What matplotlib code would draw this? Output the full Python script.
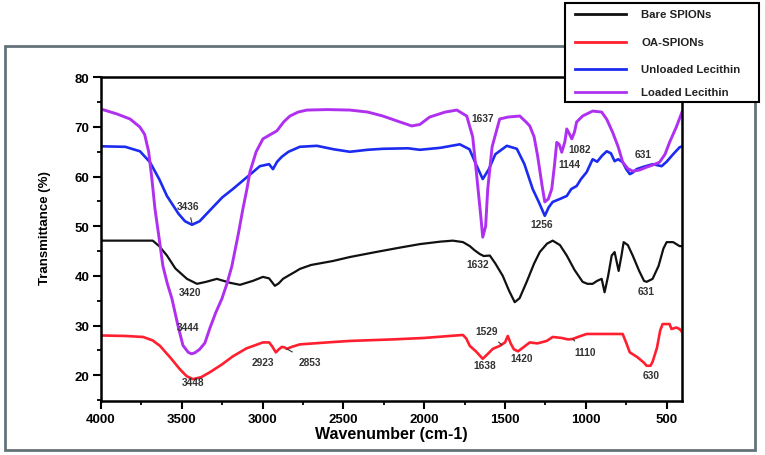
import matplotlib
matplotlib.use('Agg')
import matplotlib.pyplot as plt
from matplotlib.patches import Rectangle
from matplotlib.lines import Line2D
from matplotlib.ticker import MultipleLocator

plt.rcParams['font.family'] = ['Liberation Sans', 'DejaVu Sans']
plt.rcParams['font.weight'] = 'bold'

# ---- data ----
bare_wn = [4000, 3800, 3680, 3640, 3592, 3540, 3468, 3406, 3350, 3283, 3200, 3140, 3060,
           2998, 2960, 2924, 2900, 2874, 2843, 2800, 2770, 2700, 2565, 2460, 2300, 2150,
           2027, 1900, 1823, 1760, 1718, 1690, 1656, 1632, 1594, 1560, 1514, 1475, 1440,
           1410, 1366, 1320, 1285, 1240, 1205, 1160, 1118, 1070, 1020, 990, 958, 930, 902,
           884, 862, 840, 822, 797, 780, 766, 740, 710, 670, 640, 624, 587, 550, 520, 500,
           460, 420, 405]
bare_t = [47.1, 47.1, 47.1, 46.0, 44.1, 41.5, 39.4, 38.4, 38.8, 39.4, 38.6, 38.2, 39.0,
          39.8, 39.5, 38.0, 38.5, 39.4, 40.0, 40.8, 41.4, 42.2, 43.0, 43.8, 44.8, 45.7,
          46.4, 46.9, 47.1, 46.8, 46.0, 45.2, 44.4, 44.0, 44.1, 42.5, 40.0, 37.0, 34.7,
          35.5, 38.8, 42.5, 44.8, 46.5, 47.1, 46.2, 44.1, 41.2, 38.8, 38.4, 38.4, 39.0, 39.4,
          36.7, 40.0, 44.1, 44.8, 41.0, 44.0, 46.8, 46.2, 44.1, 41.0, 39.0, 38.8, 39.4, 42.0,
          45.5, 46.8, 46.8, 46.0, 46.0]

oa_wn = [4000, 3850, 3740, 3680, 3635, 3570, 3512, 3470, 3431, 3380, 3326, 3250, 3184,
         3100, 2998, 2960, 2943, 2918, 2900, 2881, 2865, 2850, 2820, 2770, 2600, 2460,
         2200, 2000, 1842, 1761, 1740, 1718, 1680, 1638, 1600, 1576, 1533, 1500, 1483,
         1465, 1445, 1420, 1395, 1347, 1300, 1242, 1205, 1150, 1110, 1081, 1040, 995, 900,
         800, 772, 750, 728, 680, 640, 624, 600, 587, 560, 540, 525, 500, 482, 470, 440,
         420, 405]
oa_t = [28.0, 27.9, 27.7, 27.0, 25.9, 23.5, 21.2, 19.8, 19.2, 19.6, 20.6, 22.2, 23.8,
        25.4, 26.6, 26.6, 25.9, 24.6, 25.2, 25.7, 25.6, 25.3, 25.7, 26.2, 26.6, 26.9,
        27.2, 27.5, 27.9, 28.1, 27.4, 25.9, 24.8, 23.3, 24.5, 25.3, 25.9, 26.6, 27.9,
        26.4, 25.2, 24.8, 25.4, 26.6, 26.4, 26.9, 27.7, 27.5, 27.2, 27.3, 27.8, 28.3, 28.3,
        28.3, 28.3, 26.5, 24.6, 23.6, 22.5, 21.9, 21.9, 22.7, 25.5, 29.0, 30.3, 30.3, 30.3,
        29.3, 29.6, 29.3, 28.7]

unl_wn = [4000, 3850, 3759, 3697, 3640, 3592, 3520, 3480, 3437, 3390, 3326, 3250, 3184,
          3100, 3017, 2960, 2936, 2910, 2881, 2840, 2770, 2664, 2560, 2460, 2350, 2256,
          2100, 2027, 1900, 1780, 1720, 1680, 1638, 1600, 1560, 1489, 1427, 1380, 1329,
          1290, 1254, 1230, 1205, 1160, 1118, 1090, 1057, 1030, 995, 958, 930, 900, 871,
          845, 822, 800, 772, 750, 728, 710, 686, 640, 586, 531, 500, 460, 420, 405]
unl_t = [66.1, 66.0, 65.1, 62.9, 59.5, 56.1, 52.5, 51.0, 50.3, 51.0, 53.2, 55.8, 57.5,
         59.8, 62.1, 62.5, 61.5, 63.0, 64.0, 65.0, 66.0, 66.2, 65.5, 65.0, 65.4, 65.6,
         65.7, 65.4, 65.8, 66.5, 65.5, 62.5, 59.5, 61.5, 64.5, 66.2, 65.6, 62.5, 57.5,
         54.8, 52.1, 53.8, 54.9, 55.5, 56.1, 57.5, 58.1, 59.5, 60.9, 63.5, 63.0, 64.2, 65.1,
         64.7, 63.1, 63.5, 62.9, 61.5, 60.5, 60.8, 61.5, 62.0, 62.5, 62.1, 63.0, 64.5, 65.9,
         66.1]

load_wn = [4000, 3900, 3820, 3760, 3730, 3705, 3685, 3666, 3640, 3617, 3590, 3561, 3524,
           3493, 3460, 3440, 3420, 3390, 3357, 3326, 3290, 3252, 3220, 3190, 3150, 3122,
           3097, 3078, 3040, 2998, 2950, 2912, 2870, 2831, 2780, 2726, 2600, 2460, 2350,
           2256, 2150, 2077, 2027, 1966, 1870, 1798, 1737, 1700, 1675, 1650, 1638, 1620,
           1607, 1580, 1533, 1480, 1409, 1370, 1347, 1320, 1298, 1270, 1254, 1232, 1211,
           1195, 1180, 1165, 1149, 1130, 1118, 1100, 1087, 1070, 1057, 1020, 958, 902, 870,
           834, 800, 772, 740, 710, 670, 624, 580, 544, 510, 482, 440, 405]
load_t = [73.6, 72.6, 71.6, 70.0, 68.5, 65.0, 59.5, 53.5, 47.5, 42.0, 38.5, 35.4, 30.0,
          26.0, 24.6, 24.3, 24.5, 25.2, 26.5, 29.5, 32.6, 35.4, 38.5, 42.0, 48.5, 53.5,
          57.5, 61.0, 65.0, 67.6, 68.5, 69.2, 71.0, 72.2, 73.0, 73.4, 73.5, 73.4, 73.0,
          72.2, 71.0, 70.2, 70.5, 72.0, 73.0, 73.4, 72.2, 68.0, 60.1, 52.0, 47.8, 50.0,
          57.5, 66.0, 71.6, 72.0, 72.2, 71.0, 70.2, 68.0, 64.1, 58.0, 54.9, 55.5, 57.5,
          62.0, 66.9, 66.5, 64.9, 67.0, 69.6, 68.5, 67.6, 69.0, 71.0, 72.2, 73.2, 73.0,
          71.5, 68.9, 66.0, 62.9, 61.6, 61.1, 61.3, 61.9, 62.4, 62.9, 64.5, 66.9, 70.0, 73.0]

series_names = ['Bare SPIONs', 'OA-SPIONs', 'Unloaded Lecithin', 'Loaded Lecithin']
series_colors = ['#111111', '#ff1f2f', '#1c2bf0', '#b030f0']

# peak labels: text, label x, label y, (optional leader target)
peak_labels = [
    ('3436', 3462, 54.1, (3437, 50.6)),
    ('3420', 3450, 36.8, None),
    ('3444', 3462, 29.8, None),
    ('3448', 3431, 18.7, None),
    ('2923', 2998, 22.7, None),
    ('2853', 2708, 22.7, (2850, 25.3)),
    ('1637', 1638, 71.8, None),
    ('1144', 1100, 62.5, None),
    ('1082', 1038, 65.6, None),
    ('631', 648, 64.5, None),
    ('1256', 1273, 50.5, None),
    ('1632', 1669, 42.4, None),
    ('631', 624, 37.0, None),
    ('1529', 1613, 28.8, (1520, 26.1)),
    ('1638', 1625, 22.0, None),
    ('1420', 1397, 23.5, None),
    ('1110', 1007, 24.7, (1081, 27.3)),
    ('630', 593, 20.1, None),
]

W, H = 765, 456
fig = plt.figure(figsize=(W / 100, H / 100), dpi=100)
ax = fig.add_axes([101 / W, 1 - 402 / H, (682 - 101) / W, (402 - 78.3) / H])

data = [(bare_wn, bare_t), (oa_wn, oa_t), (unl_wn, unl_t), (load_wn, load_t)]
widths = [1.6, 1.9, 1.9, 2.1]
for (wn, t), c, lw in zip(data, series_colors, widths):
    ax.plot(wn, t, color=c, lw=lw, solid_joinstyle='round')

ax.set_xlim(4000, 405)
ax.set_ylim(14.8, 80)
ax.xaxis.set_major_locator(MultipleLocator(500))
ax.xaxis.set_minor_locator(MultipleLocator(250))
ax.yaxis.set_major_locator(MultipleLocator(10))
ax.yaxis.set_minor_locator(MultipleLocator(5))
ax.set_yticks(range(20, 81, 10))
ax.tick_params(which='major', direction='out', length=5.5, width=1.5, labelsize=9.5, pad=3)
ax.tick_params(which='minor', direction='out', length=3, width=1.3)
for lab in ax.get_xticklabels() + ax.get_yticklabels():
    lab.set_fontweight('bold')
for sp in ax.spines.values():
    sp.set_linewidth(1.8)

ax.set_xlabel('Wavenumber (cm-1)', fontsize=11.5, fontweight='bold', labelpad=1)
fig.text(45 / W, 1 - 228 / H, 'Transmittance (%)', rotation=90, ha='center', va='center',
         fontsize=9.5, fontweight='bold')

for txt, x, y, target in peak_labels:
    if target is None:
        ax.text(x, y, txt, fontsize=7.3, color='#333333', ha='center', va='center',
                fontweight='bold')
    else:
        ax.annotate(txt, xy=target, xytext=(x, y), fontsize=7.3, color='#333333',
                    ha='center', va='center', fontweight='bold',
                    arrowprops=dict(arrowstyle='-', color='#333333', lw=0.8,
                                    shrinkA=3, shrinkB=0))

# outer frame around the whole chart
fig.add_artist(Rectangle((5 / W, 1 - 451 / H), 750 / W, 404 / H, transform=fig.transFigure,
                         fill=False, edgecolor='#64737a', lw=2.0, zorder=1))

# legend box (drawn on top, covers the frames)
fig.add_artist(Rectangle((565 / W, 1 - 103 / H), 194 / W, 99 / H, transform=fig.transFigure,
                         facecolor='white', edgecolor='black', lw=1.5, zorder=10))
row_y = [15, 43, 70, 93]
for name, c, ry in zip(series_names, series_colors, row_y):
    fig.add_artist(Line2D([575 / W, 626 / W], [1 - ry / H, 1 - ry / H], color=c, lw=2.0,
                          transform=fig.transFigure, zorder=11))
    fig.text(641 / W, 1 - ry / H, name, fontsize=8.2, fontweight='bold', ha='left',
             va='center', color='#222222', zorder=11)

fig.savefig('out.png', dpi=100)
